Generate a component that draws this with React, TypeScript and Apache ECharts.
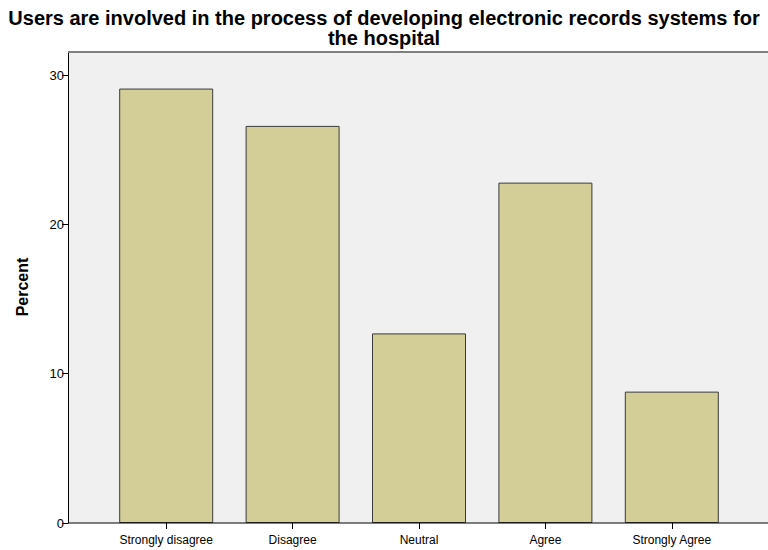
import React, { useEffect, useRef } from "react";
import * as echarts from "echarts";

const categories = ["Strongly disagree", "Disagree", "Neutral", "Agree", "Strongly Agree"];
const percents = [29.1, 26.6, 12.7, 22.8, 8.8];
const yTicks = [0, 10, 20, 30];
const titleText = "Users are involved in the process of developing electronic records systems for\nthe hospital";
const yName = "Percent";

export default function App() {
  const ref = useRef<HTMLDivElement>(null);
  useEffect(() => {
    const chart = echarts.init(ref.current!, null, { renderer: "svg" });
    const frameLeft = 68, frameRight = 768, frameTop = 52, frameBottom = 523;
    chart.setOption({
      animation: false,
      backgroundColor: "#ffffff",
      textStyle: { fontFamily: "Liberation Sans, Arial, sans-serif" },
      title: {
        text: titleText,
        left: "center",
        top: 3,
        textStyle: { fontSize: 20, fontWeight: "bold", color: "#000", lineHeight: 20 },
      },
      graphic: [
        {
          type: "rect",
          z: 0,
          shape: { x: frameLeft, y: frameTop, width: frameRight - frameLeft, height: frameBottom - frameTop },
          style: { fill: "#f0f0f0" },
        },
        {
          type: "line",
          z: 1,
          shape: { x1: frameLeft, y1: frameTop, x2: frameRight, y2: frameTop },
          style: { stroke: "#808080", lineWidth: 2 },
        },
        {
          type: "line",
          z: 10,
          shape: { x1: frameLeft, y1: frameBottom, x2: frameRight, y2: frameBottom },
          style: { stroke: "#000", lineWidth: 1 },
        },
        {
          type: "text",
          z: 10,
          x: 22,
          y: 287,
          rotation: Math.PI / 2,
          style: {
            text: yName,
            fontSize: 16,
            fontWeight: "bold",
            fill: "#000",
            align: "center",
            verticalAlign: "middle",
            fontFamily: "Liberation Sans, Arial, sans-serif",
          },
        },
      ],
      grid: { left: 103, right: 33, top: frameTop, bottom: 550 - frameBottom, containLabel: false },
      xAxis: {
        type: "category",
        data: categories,
        axisLine: { show: false },
        axisTick: { show: true, alignWithLabel: true, length: 6, lineStyle: { color: "#000" } },
        axisLabel: { color: "#000", fontSize: 12, margin: 11, interval: 0 },
      },
      yAxis: {
        type: "value",
        min: 0,
        max: 31.55,
        offset: 35,
        axisLine: { show: true, lineStyle: { color: "#000" } },
        axisTick: { show: true, length: 6, lineStyle: { color: "#000" }, customValues: yTicks },
        axisLabel: { color: "#000", fontSize: 13, margin: 4, customValues: yTicks },
        splitLine: { show: false },
      },
      series: [
        {
          type: "bar",
          data: percents,
          barWidth: 94,
          z: 2,
          itemStyle: { color: "#d3ce97", borderColor: "#3a3a3a", borderWidth: 1 },
        },
      ],
    });
    return () => chart.dispose();
  }, []);
  return <div ref={ref} style={{ position: "fixed", left: 0, top: 0, width: 768, height: 550 }} />;
}
